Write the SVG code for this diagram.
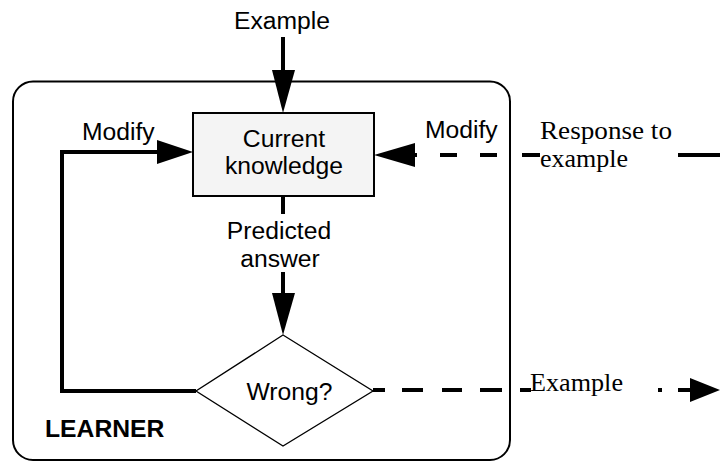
<svg xmlns="http://www.w3.org/2000/svg" width="720" height="461" viewBox="0 0 720 461">
<style>
.sans{font-family:"Liberation Sans",Arial,sans-serif;font-size:24.7px;fill:#000}
.serif{font-family:"Liberation Serif","Times New Roman",serif;font-size:26px;fill:#000}
.solid{stroke:#000;stroke-width:4;fill:none}
.head{fill:#000;stroke:none}
</style>
<rect width="720" height="461" fill="#fff"/>
<g id="learner">
<path d="M33,81.5 H490 A20,20 0 0 1 510,101.5 V440 A20,20 0 0 1 490,460 H33 A20,20 0 0 1 13,440 V101.5 A20,20 0 0 1 33,81.5 Z" fill="none" stroke="#000" stroke-width="2"/>
<text class="sans" x="45" y="437" font-weight="bold" font-size="25.4">LEARNER</text>
</g>
<g id="knowledge">
<rect x="193" y="113" width="181" height="83" fill="#f4f4f4" stroke="#000" stroke-width="2"/>
<text class="sans" x="284" y="147" text-anchor="middle">Current</text>
<text class="sans" x="284" y="174" text-anchor="middle">knowledge</text>
</g>
<g id="wrong">
<polygon points="283,335 373,391 283,446 196,391" fill="#fff" stroke="#000" stroke-width="1.3"/>
<text class="sans" x="289.5" y="400" text-anchor="middle">Wrong?</text>
</g>
<g id="connectors">
<line class="solid" x1="283" y1="37" x2="283" y2="75"/>
<polygon class="head" points="272,70 295,70 283,113"/>
<text class="sans" x="282" y="29" text-anchor="middle">Example</text>
<polyline class="solid" points="196,391 62,391 62,152 160,152"/>
<polygon class="head" points="157,140 193,152 157,164"/>
<text class="sans" x="82" y="140">Modify</text>
<line class="solid" x1="283" y1="196" x2="283" y2="214"/>
<text class="sans" x="279" y="239" text-anchor="middle">Predicted</text>
<text class="sans" x="280" y="267" text-anchor="middle">answer</text>
<line class="solid" x1="283" y1="272" x2="283" y2="296"/>
<polygon class="head" points="272,293 295,293 283,335"/>
<line class="solid" x1="720" y1="155" x2="678" y2="155"/>
<line class="solid" x1="540" y1="155" x2="522" y2="155"/>
<line class="solid" x1="497" y1="155" x2="480" y2="155"/>
<line class="solid" x1="457" y1="155" x2="440" y2="155"/>
<line class="solid" x1="417" y1="155" x2="410" y2="155"/>
<polygon class="head" points="415,143 374,155 415,167"/>
<text class="sans" x="425" y="138">Modify</text>
<text class="serif" x="540" y="139" textLength="132" lengthAdjust="spacingAndGlyphs">Response to</text>
<text class="serif" x="540" y="167">example</text>
<line class="solid" x1="373" y1="390" x2="385" y2="390"/>
<line class="solid" x1="402" y1="390" x2="423" y2="390"/>
<line class="solid" x1="442" y1="390" x2="462" y2="390"/>
<line class="solid" x1="480" y1="390" x2="502" y2="390"/>
<line class="solid" x1="520" y1="390" x2="531" y2="390"/>
<line class="solid" x1="658" y1="390" x2="662" y2="390"/>
<line class="solid" x1="678" y1="390" x2="694" y2="390"/>
<polygon class="head" points="690,378 720,390 690,402"/>
<text class="serif" x="530" y="391" textLength="93" lengthAdjust="spacingAndGlyphs">Example</text>
</g>
</svg>
